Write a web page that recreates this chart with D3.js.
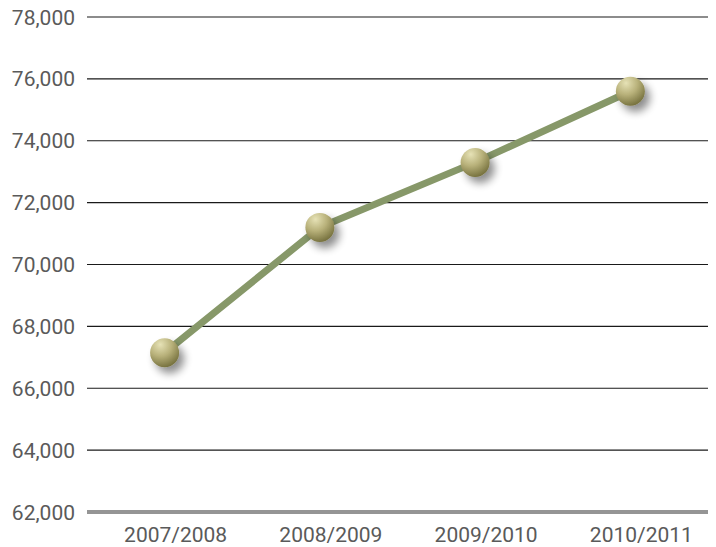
<!DOCTYPE html>
<html>
<head>
<meta charset="utf-8">
<script src="https://cdn.jsdelivr.net/npm/d3@7"></script>
<style>
  body { margin: 0; background: #fff; }
  text { font-family: Roboto, "Noto Sans", sans-serif; }
</style>
</head>
<body>
<div id="chart"></div>
<script>
const seasons = ["2007/2008", "2008/2009", "2009/2010", "2010/2011"];
const totals = [67150, 71200, 73300, 75600];
const yTicks = [62000, 64000, 66000, 68000, 70000, 72000, 74000, 76000, 78000];

const width = 716;
const height = 547;
const margin = { top: 17, right: 8, bottom: 35, left: 87 };

const svg = d3.select("#chart")
  .append("svg")
  .attr("width", width)
  .attr("height", height);

const defs = svg.append("defs");

// shiny ball fill
const grad = defs.append("radialGradient")
  .attr("id", "ball")
  .attr("cx", "35%").attr("cy", "22%").attr("r", "80%");
grad.append("stop").attr("offset", "0%").attr("stop-color", "#e6e2b6");
grad.append("stop").attr("offset", "50%").attr("stop-color", "#b8b17a");
grad.append("stop").attr("offset", "100%").attr("stop-color", "#77723f");

const shadow = defs.append("filter")
  .attr("id", "shadow")
  .attr("x", "-80%").attr("y", "-80%").attr("width", "260%").attr("height", "260%");
shadow.append("feGaussianBlur").attr("in", "SourceAlpha").attr("stdDeviation", 4.5);
shadow.append("feOffset").attr("dx", 5).attr("dy", 6).attr("result", "blur");
shadow.append("feComponentTransfer")
  .append("feFuncA").attr("type", "linear").attr("slope", 0.45);
const merge = shadow.append("feMerge");
merge.append("feMergeNode");
merge.append("feMergeNode").attr("in", "SourceGraphic");

const x = d3.scaleBand()
  .domain(seasons)
  .range([margin.left, width - margin.right])
  .padding(0);

const y = d3.scaleLinear()
  .domain([62000, 78000])
  .range([height - margin.bottom, margin.top]);

// grid lines
svg.selectAll(".grid")
  .data(yTicks.slice(1))
  .join("line")
  .attr("class", "grid")
  .attr("x1", margin.left)
  .attr("x2", width - margin.right)
  .attr("y1", d => y(d))
  .attr("y2", d => y(d))
  .attr("stroke", "#1a1a1a")
  .attr("stroke-width", 1.2);

// baseline
svg.append("line")
  .attr("x1", margin.left)
  .attr("x2", width - margin.right)
  .attr("y1", y(62000))
  .attr("y2", y(62000))
  .attr("stroke", "#959595")
  .attr("stroke-width", 4);

// y labels
svg.selectAll(".ylab")
  .data(yTicks)
  .join("text")
  .attr("class", "ylab")
  .attr("x", 75)
  .attr("y", d => y(d))
  .attr("dy", "0.36em")
  .attr("text-anchor", "end")
  .attr("font-size", 21)
  .attr("fill", "#5a5a5a")
  .text(d => d3.format(",")(d));

// x labels sit a bit right of the points in the original
svg.selectAll(".xlab")
  .data(seasons)
  .join("text")
  .attr("class", "xlab")
  .attr("x", d => x(d) + x.bandwidth() / 2 + 11)
  .attr("y", 542)
  .attr("text-anchor", "middle")
  .attr("font-size", 21)
  .attr("fill", "#5a5a5a")
  .text(d => d);

const points = seasons.map((s, i) => ({ season: s, value: totals[i] }));

const line = d3.line()
  .x(d => x(d.season) + x.bandwidth() / 2)
  .y(d => y(d.value));

svg.append("path")
  .datum(points)
  .attr("d", line)
  .attr("fill", "none")
  .attr("stroke", "#879869")
  .attr("stroke-width", 7);

svg.selectAll(".dot")
  .data(points)
  .join("circle")
  .attr("class", "dot")
  .attr("cx", d => x(d.season) + x.bandwidth() / 2)
  .attr("cy", d => y(d.value))
  .attr("r", 14.5)
  .attr("fill", "url(#ball)")
  .attr("filter", "url(#shadow)");
</script>
</body>
</html>
